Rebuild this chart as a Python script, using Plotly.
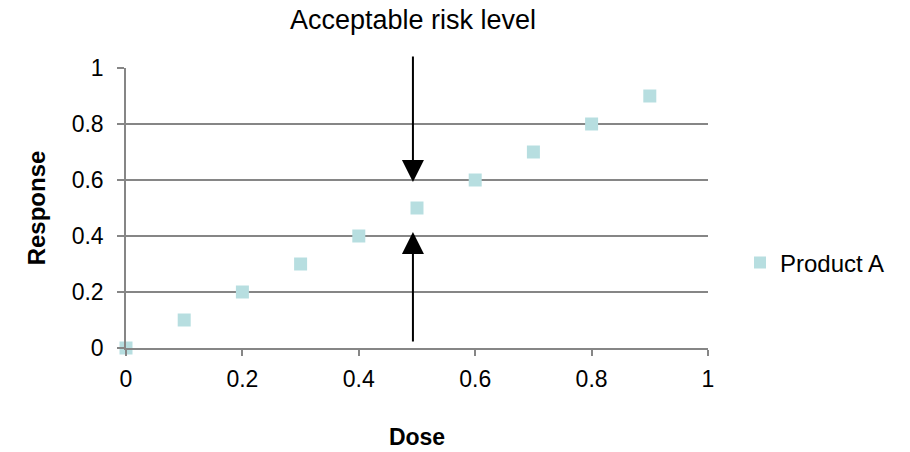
import plotly.graph_objects as go

dose = [0, 0.1, 0.2, 0.3, 0.4, 0.5, 0.6, 0.7, 0.8, 0.9]
response = [0, 0.1, 0.2, 0.3, 0.4, 0.5, 0.6, 0.7, 0.8, 0.9]
tick_vals = [0, 0.2, 0.4, 0.6, 0.8, 1]
tick_text = ["0", "0.2", "0.4", "0.6", "0.8", "1"]
risk_x = 0.493

FONT = "Liberation Sans, Arial, sans-serif"
GRID = "#868686"

fig = go.Figure()
fig.add_trace(go.Scatter(
    x=dose, y=response, mode="markers", name="Product A",
    marker=dict(symbol="square", size=13, color="#B7DEE0"),
    cliponaxis=False,
))

fig.update_layout(
    width=910, height=452,
    margin=dict(l=126, r=202, t=68, b=104),
    paper_bgcolor="white", plot_bgcolor="white",
    font=dict(family=FONT, size=23, color="black"),
    showlegend=True,
    legend=dict(x=1.055, y=0.304, xanchor="left", yanchor="middle",
                font=dict(size=24), itemsizing="constant",
                bgcolor="rgba(0,0,0,0)"),
    xaxis=dict(range=[0, 1], tickvals=tick_vals, ticktext=tick_text,
               showgrid=False, zeroline=False, showline=True,
               linecolor=GRID, linewidth=1.5, automargin=False,
               ticks="outside", ticklen=6, tickcolor=GRID, tickwidth=1.5,
               tickfont=dict(size=23), ticklabelstandoff=4,
               title=dict(text="<b>Dose</b>", font=dict(size=23), standoff=38)),
    yaxis=dict(range=[0, 1], tickvals=tick_vals, ticktext=tick_text,
               showgrid=True, gridcolor=GRID, gridwidth=1.5,
               zeroline=False, showline=True,
               linecolor=GRID, linewidth=1.5, automargin=False,
               ticks="outside", ticklen=7, tickcolor=GRID, tickwidth=1.5,
               tickfont=dict(size=23), ticklabelstandoff=9,
               title=dict(text="<b>Response</b>", font=dict(size=24), standoff=19)),
)

fig.add_annotation(x=risk_x, y=0.593, ax=risk_x, ay=1.046,
                   xref="x", yref="y", axref="x", ayref="y",
                   showarrow=True, arrowhead=2, arrowsize=2.2, arrowwidth=2,
                   arrowcolor="black", text="")
fig.add_annotation(x=risk_x, y=0.414, ax=risk_x, ay=0.018,
                   xref="x", yref="y", axref="x", ayref="y",
                   showarrow=True, arrowhead=2, arrowsize=2.2, arrowwidth=2,
                   arrowcolor="black", text="")
fig.add_annotation(x=risk_x, y=1.0, xref="x", yref="paper", yanchor="middle",
                   yshift=48, showarrow=False,
                   text="Acceptable risk level", font=dict(size=27))

fig.write_html("out.html")
